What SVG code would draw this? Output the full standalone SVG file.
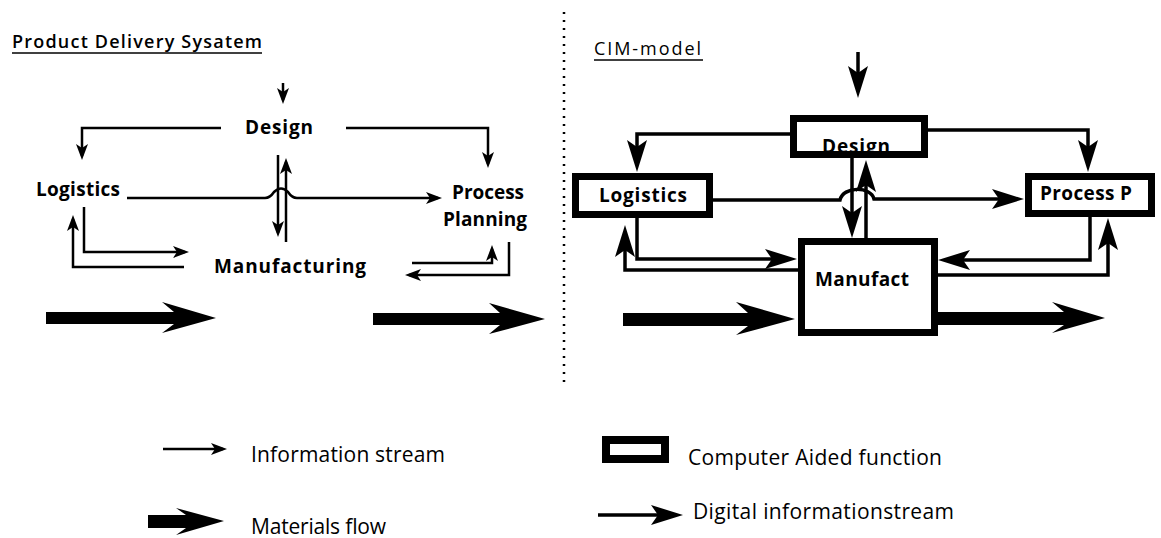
<svg xmlns="http://www.w3.org/2000/svg" width="1161" height="538" viewBox="0 0 1161 538">
<defs>
<style>
.lbl{font-family:"Open Sans","Liberation Sans",sans-serif;font-weight:700;font-size:19px;fill:#000}
.ttl{font-family:"Open Sans","Liberation Sans",sans-serif;font-weight:600;font-size:18px;fill:#000}
.ttl2{font-family:"Open Sans","Liberation Sans",sans-serif;font-weight:400;font-size:18px;fill:#000}
.leg{font-family:"Open Sans","Liberation Sans",sans-serif;font-weight:400;font-size:21px;fill:#000}
.thin{fill:none;stroke:#000;stroke-width:2.5;marker-end:url(#ah)}
.dig{fill:none;stroke:#000;stroke-width:3.5;marker-end:url(#ad)}
.box{fill:#fff;stroke:#000;stroke-width:7}
.thick{fill:#000}
.ul{stroke:#000;stroke-width:1.6}
.div{stroke:#000;stroke-width:2.5;stroke-dasharray:2 6}
</style>
<marker id="ah" viewBox="0 0 16 12" refX="12" refY="6" markerWidth="16" markerHeight="12" markerUnits="userSpaceOnUse" orient="auto"><path d="M0,0 L16,6 L0,12 L4,6 Z"/></marker>
<marker id="ad" viewBox="0 0 32 20" refX="24" refY="10" markerWidth="32" markerHeight="20" markerUnits="userSpaceOnUse" orient="auto"><path d="M0,0 L32,10 L0,20 L7,10 Z"/></marker>
</defs>
<rect x="0" y="0" width="1161" height="538" fill="#fff"/>

<line class="div" x1="564" y1="12" x2="564" y2="385"/>

<g id="title-left">
<text class="ttl" x="12" y="48" textLength="250">Product Delivery Sysatem</text>
<line class="ul" x1="12" y1="53" x2="262" y2="53"/>
</g>
<g id="title-right">
<text class="ttl2" x="594" y="55" textLength="107">CIM-model</text>
<line class="ul" x1="594" y1="60" x2="703" y2="60"/>
</g>

<g id="connectors">
<path class="thin" d="M283,83 V100"/>
<path class="thin" d="M221,128 H82 V156"/>
<path class="thin" d="M346,128 H488 V164"/>
<path class="thin" d="M127,198 H265 Q270,198 274,192 Q281,185 288,192 Q292,198 297,198 H438"/>
<path class="thin" d="M278,155 V233"/>
<path class="thin" d="M286,242 V162"/>
<path class="thin" d="M84,207 V252 H185"/>
<path class="thin" d="M184,267 H73 V219"/>
<path class="thin" d="M412,263 H492 V249"/>
<path class="thin" d="M509,242 V275 H409"/>
<polygon class="thick" points="46,312 174,312 162,302 216,318 162,333 174,324 46,324"/>
<polygon class="thick" points="373,313 500,313 489,303 545,319 489,334 500,325 373,325"/>

<path class="dig" d="M858,52 V90"/>
<path class="dig" d="M790,134 H637 V164"/>
<path class="dig" d="M928,130 H1088 V164"/>
<path class="dig" d="M713,200 H840 C843,186 871,186 874,199 H1016"/>
<path class="dig" d="M852,158 V230"/>
<path class="dig" d="M866,238 V168"/>
<path class="dig" d="M637,218 V259 H789"/>
<path class="dig" d="M798,270 H625 V233"/>
<path class="dig" d="M1090,217 V260 H946"/>
<path class="dig" d="M938,275 H1108 V226"/>
<polygon class="thick" points="623,313 748,313 736,302 795,319 736,335 748,326 623,326"/>
<polygon class="thick" points="938,312 1064,312 1052,302 1105,318 1052,333 1064,325 938,325"/>
</g>

<g id="pds-design"><text class="lbl" x="245" y="134" textLength="68">Design</text></g>
<g id="pds-logistics"><text class="lbl" x="36" y="196" textLength="84">Logistics</text></g>
<g id="pds-process"><text class="lbl" x="452" y="199" textLength="72">Process</text><text class="lbl" x="443" y="226" textLength="84">Planning</text></g>
<g id="pds-manufacturing"><text class="lbl" x="214" y="273" textLength="152">Manufacturing</text></g>

<g id="cim-design"><rect class="box" x="793.5" y="118.5" width="131" height="36"/><text class="lbl" x="822" y="153" textLength="68">Design</text></g>
<g id="cim-logistics"><rect class="box" x="575.5" y="176.5" width="134" height="38"/><text class="lbl" x="599" y="202" textLength="88">Logistics</text></g>
<g id="cim-process"><rect class="box" x="1028.5" y="176.5" width="123" height="37"/><text class="lbl" x="1040" y="200" textLength="92">Process P</text></g>
<g id="cim-manufact"><rect class="box" x="801.5" y="241.5" width="133" height="91"/><text class="lbl" x="815" y="286" textLength="94">Manufact</text></g>

<g id="legend-info">
<path class="thin" d="M163,449 H223"/>
<text class="leg" x="251" y="462" textLength="194">Information stream</text>
</g>
<g id="legend-material">
<polygon class="thick" points="148,515 186,515 176,508 224,521 176,535 186,528 148,528"/>
<text class="leg" x="251" y="534" textLength="135">Materials flow</text>
</g>
<g id="legend-ca">
<rect x="606" y="440" width="59" height="19" fill="#fff" stroke="#000" stroke-width="8"/>
<text class="leg" x="688" y="465" textLength="254">Computer Aided function</text>
</g>
<g id="legend-digital">
<path class="dig" d="M598,515 H675"/>
<text class="leg" x="693" y="519" textLength="261">Digital informationstream</text>
</g>
</svg>
